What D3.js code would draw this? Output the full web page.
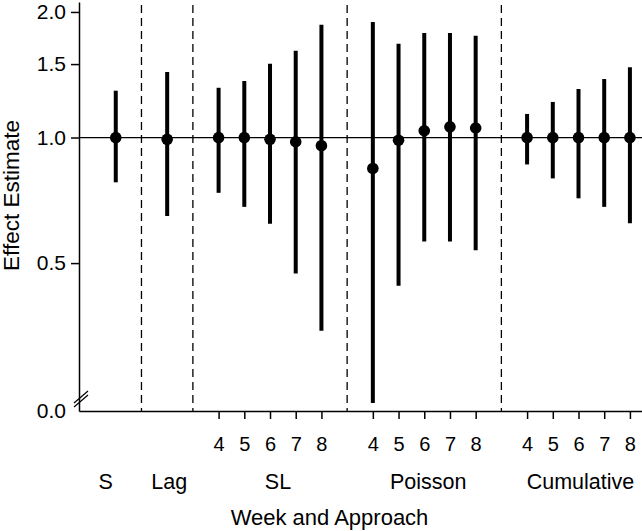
<!DOCTYPE html>
<html>
<head>
<meta charset="utf-8">
<script src="https://cdn.jsdelivr.net/npm/d3@7"></script>
<style>
  html, body { margin: 0; padding: 0; background: #fff; }
  svg { display: block; }
  text { font-family: "Liberation Sans", Arial, sans-serif; fill: #000; }
</style>
</head>
<body>
<svg id="chart" width="642" height="531"></svg>
<script>
// ---- Data ----
const approaches = ["S", "Lag", "SL", "Poisson", "Cumulative"];
const rowApproach = ["S", "Lag", "SL", "SL", "SL", "SL", "SL",
  "Poisson", "Poisson", "Poisson", "Poisson", "Poisson",
  "Cumulative", "Cumulative", "Cumulative", "Cumulative", "Cumulative"];
const rowWeek = ["", "", "4", "5", "6", "7", "8", "4", "5", "6", "7", "8", "4", "5", "6", "7", "8"];
const estimate = [1.00, 0.99, 1.00, 1.00, 0.99, 0.977, 0.956, 0.843, 0.985, 1.038, 1.061, 1.054, 1.00, 1.00, 1.00, 1.00, 1.00];
const lower = [0.781, 0.648, 0.737, 0.682, 0.621, 0.472, 0.344, 0.231, 0.441, 0.563, 0.563, 0.537, 0.862, 0.798, 0.715, 0.682, 0.623];
const upper = [1.295, 1.436, 1.316, 1.366, 1.503, 1.615, 1.864, 1.892, 1.679, 1.781, 1.781, 1.754, 1.139, 1.217, 1.307, 1.381, 1.473];
const yTickValues = [0.5, 1.0, 1.5, 2.0];
const yBreakLabel = "0.0";
const referenceValue = 1.0;
const xTitle = "Week and Approach";
const yTitle = "Effect Estimate";

// ---- Layout ----
const W = 642, H = 531;
const axisX = 79, axisY = 411, plotTop = 2;
const labelDx = [-10, 2, 8, 4, 2];

// position index: one unit per estimate, one separator unit between approaches
const rows = [];
const separators = [];
let pos = 0;
approaches.forEach((a, gi) => {
  if (gi > 0) { separators.push(pos); pos += 1; }
  rowApproach.forEach((ra, i) => {
    if (ra === a) { rows.push({ i, approach: a, week: rowWeek[i], pos, est: estimate[i], lo: lower[i], hi: upper[i] }); pos += 1; }
  });
});
const lastPos = pos - 1;

const x = d3.scaleLinear().domain([-1.43, lastPos + 0.47]).range([axisX, W]);
const y = d3.scaleLog().domain([0.221, 2.113]).range([axisY, plotTop]);

const svg = d3.select("#chart");

// y axis
const yAxis = d3.axisLeft(y)
  .tickValues([y.domain()[0]].concat(yTickValues))
  .tickFormat((d, i) => i === 0 ? yBreakLabel : d3.format(".1f")(d))
  .tickSize(8).tickPadding(5).tickSizeOuter(0);
const gy = svg.append("g").attr("transform", `translate(${axisX},0)`).call(yAxis);
gy.select(".domain").attr("stroke", "#000").attr("stroke-width", 1.5);
gy.selectAll(".tick line").attr("stroke", "#000").attr("stroke-width", 1.5);
gy.selectAll(".tick").filter((d, i) => i === 0).select("line").remove();
gy.selectAll(".tick text").attr("font-size", 21).attr("fill", "#000")
  .attr("font-family", "Liberation Sans, Arial, sans-serif");

// axis break marks
const brk = svg.append("g").attr("stroke", "#000").attr("stroke-width", 1.2);
[0, 4].forEach(dy => {
  brk.append("line")
    .attr("x1", axisX - 5).attr("y1", axisY - 8 + dy)
    .attr("x2", axisX + 9).attr("y2", axisY - 20 + dy);
});

// x axis
const tickRows = rows.filter(r => r.week !== "");
const xAxis = d3.axisBottom(x)
  .tickValues(tickRows.map(r => r.pos))
  .tickFormat((d, i) => tickRows[i].week)
  .tickSize(8).tickPadding(18).tickSizeOuter(0);
const gx = svg.append("g").attr("transform", `translate(0,${axisY})`).call(xAxis);
gx.select(".domain").attr("stroke", "#000").attr("stroke-width", 1.5);
gx.selectAll(".tick line").attr("stroke", "#000").attr("stroke-width", 1.5);
gx.selectAll(".tick text").attr("font-size", 20).attr("fill", "#000")
  .attr("font-family", "Liberation Sans, Arial, sans-serif");

// approach labels
approaches.forEach((a, gi) => {
  const g = rows.filter(r => r.approach === a);
  const cx = (x(g[0].pos) + x(g[g.length - 1].pos)) / 2 + labelDx[gi];
  svg.append("text").attr("x", cx).attr("y", 489)
    .attr("text-anchor", "middle").attr("font-size", 21.5).text(a);
});

// titles
svg.append("text").attr("x", 329.5).attr("y", 525)
  .attr("text-anchor", "middle").attr("font-size", 22).text(xTitle);
svg.append("text").attr("transform", "translate(18.5,195.5) rotate(-90)")
  .attr("text-anchor", "middle").attr("font-size", 22.5).text(yTitle);

// reference line
svg.append("line")
  .attr("x1", axisX).attr("x2", W)
  .attr("y1", y(referenceValue)).attr("y2", y(referenceValue))
  .attr("stroke", "#000").attr("stroke-width", 1.2);

// dashed separators
svg.append("g").selectAll("line").data(separators).join("line")
  .attr("x1", d => x(d)).attr("x2", d => x(d))
  .attr("y1", 5).attr("y2", axisY)
  .attr("stroke", "#000").attr("stroke-width", 1.3)
  .attr("stroke-dasharray", "8,5");

// error bars
svg.append("g").selectAll("line").data(rows).join("line")
  .attr("x1", d => x(d.pos)).attr("x2", d => x(d.pos))
  .attr("y1", d => y(d.lo)).attr("y2", d => y(d.hi))
  .attr("stroke", "#000").attr("stroke-width", 4);

// points
svg.append("g").selectAll("circle").data(rows).join("circle")
  .attr("cx", d => x(d.pos)).attr("cy", d => y(d.est))
  .attr("r", 5.8).attr("fill", "#000");
</script>
</body>
</html>
